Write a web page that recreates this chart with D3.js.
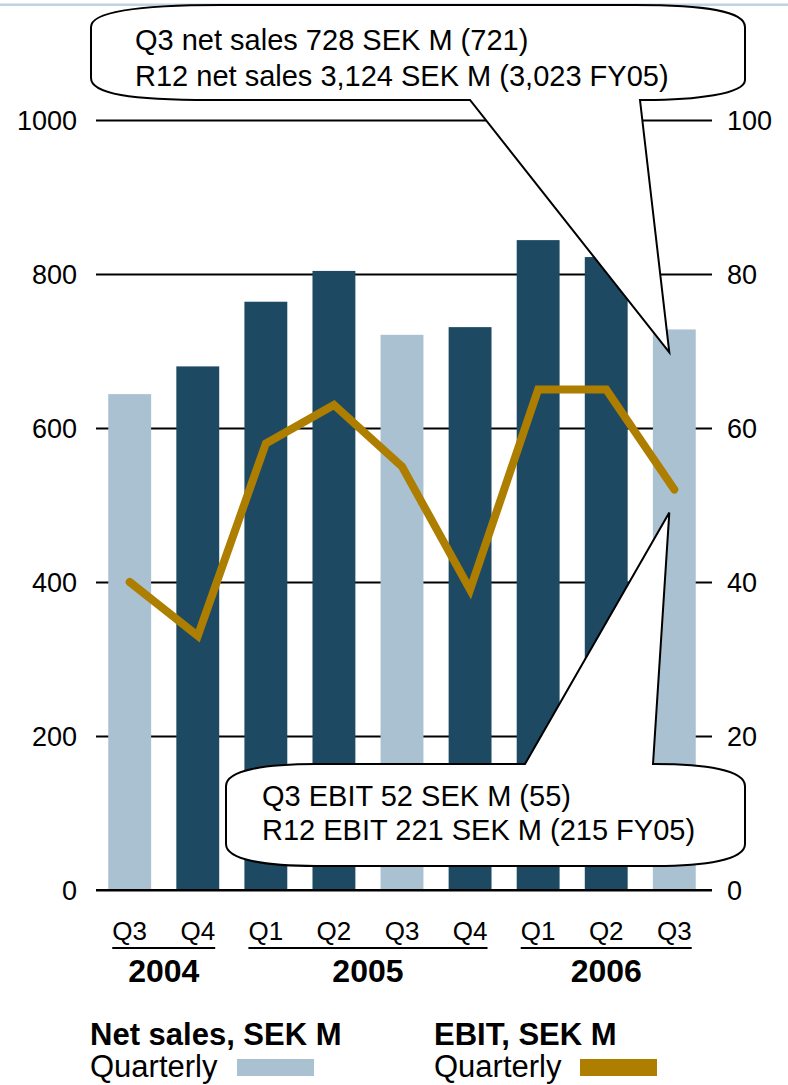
<!DOCTYPE html>
<html>
<head>
  <meta charset="utf-8">
<script src="https://d3js.org/d3.v7.min.js"></script>
<style>
  body { margin: 0; background: #fff; }
  text { font-family: "Liberation Sans", Arial, sans-serif; fill: #000; }
</style>

  <script>
	// chart data
	var quarters = ["Q3", "Q4", "Q1", "Q2", "Q3", "Q4", "Q1", "Q2", "Q3"];
	var netSales = [644, 680, 764, 804, 721, 731, 844, 822, 728];
	var ebit = [40, 33, 58, 63, 55, 39, 65, 65, 52];
	// which bars are the highlighted Q3 ones
	var highlight = [true, false, false, false, true, false, false, false, true];
	var years = [{label: "2004", first: 0, last: 1}, {label: "2005", first: 2, last: 5}, {label: "2006", first: 6, last: 8}];
	var leftTicks = [0, 200, 400, 600, 800, 1000];
	var rightTicks = [0, 20, 40, 60, 80, 100];
	var salesNote = ["Q3 net sales 728 SEK M (721)", "R12 net sales 3,124 SEK M (3,023 FY05)"];
	var ebitNote = ["Q3 EBIT 52 SEK M (55)", "R12 EBIT 221 SEK M (215 FY05)"];

	function makeChart(){

		var width = 788, height = 1085;
		var light = "#a9c1d1", dark = "#1d4a62", gold = "#ad7e00";

		var svg = d3.select("body").append("svg")
		    .attr("width", width)
		    .attr("height", height);

		// thin rule across the top of the page
		svg.append("rect")
		    .attr("x", 0).attr("y", 3.5)
		    .attr("width", width).attr("height", 2.5)
		    .style("fill", "#bfd2e2");

		// scales
		var x = d3.scaleBand()
		    .domain(d3.range(quarters.length))
		    .range([96, 708])
		    .paddingInner(0.37)
		    .paddingOuter(0.18);

		var y = d3.scaleLinear().domain([0, 1000]).range([890, 120]);
		var y2 = d3.scaleLinear().domain([0, 100]).range([890, 120]);

		// gridlines (these are the axis ticks running across)
		var yAxis = d3.axisLeft(y)
		    .tickValues(leftTicks)
		    .tickSize(616)
		    .tickPadding(19)
		    .tickFormat(d3.format("d"));

		var gl = svg.append("g")
		    .attr("transform", "translate(712,0)")
		    .call(yAxis);
		gl.select(".domain").remove();
		gl.selectAll("line").style("stroke", "#000").style("stroke-width", 2);
		gl.selectAll("text").style("font-size", "27px").attr("dy", "0.36em");

		var yAxis2 = d3.axisRight(y2)
		    .tickValues(rightTicks)
		    .tickSize(0)
		    .tickPadding(15);
		var gr = svg.append("g")
		    .attr("transform", "translate(712,0)")
		    .call(yAxis2);
		gr.select(".domain").remove();
		gr.selectAll("text").style("font-size", "27px").attr("dy", "0.36em");

		// bars
		svg.selectAll(".bar")
		    .data(netSales)
		  .enter().append("rect")
		    .attr("class", "bar")
		    .attr("x", function(d, i) { return x(i); })
		    .attr("width", x.bandwidth())
		    .attr("y", function(d) { return y(d); })
		    .attr("height", function(d) { return y(0) - y(d); })
		    .style("fill", function(d, i) { return highlight[i] ? light : dark; });

		// baseline on top of the bars
		svg.append("line")
		    .attr("x1", 96).attr("x2", 712)
		    .attr("y1", y(0)).attr("y2", y(0))
		    .style("stroke", "#000").style("stroke-width", 2);

		// EBIT line
		var line = d3.line()
		    .x(function(d, i) { return x(i) + x.bandwidth() / 2; })
		    .y(function(d) { return y2(d); });

		svg.append("path")
		    .datum(ebit)
		    .attr("d", line)
		    .style("fill", "none")
		    .style("stroke", gold)
		    .style("stroke-width", 8)
		    .style("stroke-linecap", "round")
		    .style("stroke-linejoin", "miter");

		// quarter labels
		svg.selectAll(".qlab")
		    .data(quarters)
		  .enter().append("text")
		    .attr("class", "qlab")
		    .attr("x", function(d, i) { return x(i) + x.bandwidth() / 2; })
		    .attr("y", 940)
		    .style("font-size", "26px")
		    .style("text-anchor", "middle")
		    .text(function(d) { return d; });

		// year groups with an underline
		var yg = svg.selectAll(".year")
		    .data(years)
		  .enter().append("g")
		    .attr("class", "year");

		yg.append("line")
		    .attr("x1", function(d) { return x(d.first) + 4; })
		    .attr("x2", function(d) { return x(d.last) + x.bandwidth() - 4; })
		    .attr("y1", 948).attr("y2", 948)
		    .style("stroke", "#000").style("stroke-width", 2);

		yg.append("text")
		    .attr("x", function(d) { return (x(d.first) + x(d.last) + x.bandwidth()) / 2; })
		    .attr("y", 982)
		    .style("font-size", "32px")
		    .style("font-weight", "bold")
		    .style("text-anchor", "middle")
		    .text(function(d) { return d.label; });

		// callout bubbles
		var tipTop = [x(8) + x.bandwidth() / 2 - 5, y(728) + 23];
		var tipBot = [x(8) + x.bandwidth() / 2 - 5, y2(52) + 23];

		var L = 91, R = 745, T = 5, B = 100;
		var p1 = d3.path();
		p1.moveTo(L, T + 22);
		p1.bezierCurveTo(L, T + 6, L + 50, T, L + 130, T);
		p1.lineTo(R - 110, T);
		p1.bezierCurveTo(R - 40, T, R, T + 6, R, T + 22);
		p1.lineTo(R, B - 20);
		p1.bezierCurveTo(R, B - 6, R - 50, B, R - 100, B);
		p1.lineTo(640, B);
		p1.lineTo(tipTop[0], tipTop[1]);
		p1.lineTo(470, B);
		p1.lineTo(L + 120, B);
		p1.bezierCurveTo(L + 40, B, L, B - 6, L, B - 22);
		p1.closePath();

		svg.append("path")
		    .attr("d", p1.toString())
		    .style("fill", "#fff")
		    .style("stroke", "#000")
		    .style("stroke-width", 2);

		svg.selectAll(".note1")
		    .data(salesNote)
		  .enter().append("text")
		    .attr("x", 135)
		    .attr("y", function(d, i) { return 50 + i * 36; })
		    .style("font-size", "29px")
		    .text(function(d) { return d; });

		var L2 = 226, R2 = 745, T2 = 764, B2 = 866;
		var p2 = d3.path();
		p2.moveTo(L2, T2 + 22);
		p2.bezierCurveTo(L2, T2 + 6, L2 + 40, T2, L2 + 90, T2);
		p2.lineTo(525, T2);
		p2.lineTo(tipBot[0], tipBot[1]);
		p2.lineTo(653, T2);
		p2.lineTo(R2 - 90, T2);
		p2.bezierCurveTo(R2 - 40, T2, R2, T2 + 6, R2, T2 + 22);
		p2.lineTo(R2, B2 - 22);
		p2.bezierCurveTo(R2, B2 - 6, R2 - 40, B2, R2 - 90, B2);
		p2.lineTo(L2 + 90, B2);
		p2.bezierCurveTo(L2 + 40, B2, L2, B2 - 6, L2, B2 - 22);
		p2.closePath();

		svg.append("path")
		    .attr("d", p2.toString())
		    .style("fill", "#fff")
		    .style("stroke", "#000")
		    .style("stroke-width", 2);

		svg.selectAll(".note2")
		    .data(ebitNote)
		  .enter().append("text")
		    .attr("x", 262)
		    .attr("y", function(d, i) { return 806 + i * 34; })
		    .style("font-size", "29px")
		    .text(function(d) { return d; });

		// legend
		var legend = [
		  {title: "Net sales, SEK M", sub: "Quarterly", color: light, x: 90, sw: 237},
		  {title: "EBIT, SEK M", sub: "Quarterly", color: gold, x: 434, sw: 580}
		];
		var lg = svg.selectAll(".legend")
		    .data(legend)
		  .enter().append("g")
		    .attr("class", "legend");
		lg.append("text")
		    .attr("x", function(d) { return d.x; })
		    .attr("y", 1045)
		    .style("font-size", "31px")
		    .style("font-weight", "bold")
		    .text(function(d) { return d.title; });
		lg.append("text")
		    .attr("x", function(d) { return d.x; })
		    .attr("y", 1077)
		    .style("font-size", "31px")
		    .text(function(d) { return d.sub; });
		lg.append("rect")
		    .attr("x", function(d) { return d.sw; })
		    .attr("y", 1059)
		    .attr("width", 77)
		    .attr("height", 17)
		    .style("fill", function(d) { return d.color; });
	}
  </script>

</head>

<body onload="makeChart()">

</body>
</html>
